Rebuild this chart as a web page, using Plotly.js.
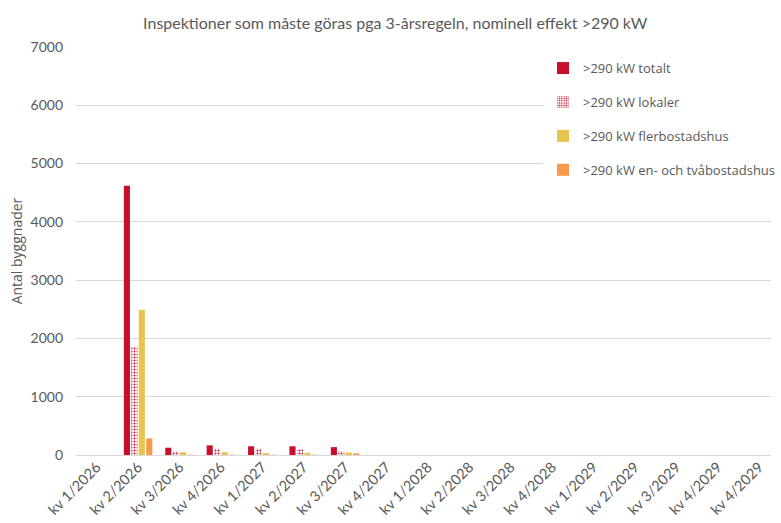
<!DOCTYPE html>
<html>
<head>
<meta charset="utf-8">
<script src="https://cdn.plot.ly/plotly-3.0.1.min.js"></script>
<style>
  html, body { margin: 0; padding: 0; background: #fff; overflow: hidden; }
  #chart { width: 781px; height: 523px; }
</style>
</head>
<body>
<div id="chart"></div>
<script>
// Kvartal (sista etiketten upprepas i originalet)
const categories = ['kv 1/2026', 'kv 2/2026', 'kv 3/2026', 'kv 4/2026',
                    'kv 1/2027', 'kv 2/2027', 'kv 3/2027', 'kv 4/2027',
                    'kv 1/2028', 'kv 2/2028', 'kv 3/2028', 'kv 4/2028',
                    'kv 1/2029', 'kv 2/2029', 'kv 3/2029', 'kv 4/2029', 'kv 4/2029'];

const totalt    = [0, 4620, 125, 165, 150, 150, 135, 0, 0, 0, 0, 0, 0, 0, 0, 0, 0];
const lokaler   = [0, 1860,  65, 110, 110, 105,  65, 0, 0, 0, 0, 0, 0, 0, 0, 0, 0];
const flerbost  = [0, 2490,  48,  48,  35,  38,  43, 0, 0, 0, 0, 0, 0, 0, 0, 0, 0];
const enTvabost = [0,  285,   6,   6,   6,   6,  28, 0, 0, 0, 0, 0, 0, 0, 0, 0, 0];

const COLORS = {
    red: '#C8102E',
    yellow: '#E9C350',
    orange: '#F79A4B',
    text: '#595959',
    grid: '#D9D9D9'
};

const FONT = 'Lato, "Open Sans", sans-serif';      // Calibri-liknande
const FONT_UI = '"Open Sans", "Noto Sans", sans-serif'; // Segoe-liknande
const xIdx = categories.map((_, i) => i);

function bar(name, y, marker, group) {
    return {
        type: 'bar',
        name: name,
        x: xIdx,
        y: y,
        marker: marker,
        legendgroup: group,
        hoverinfo: 'x+y+name'
    };
}

const traces = [
    bar('>290 kW totalt', totalt, { color: COLORS.red }, 'a'),
    bar('>290 kW lokaler', lokaler, {
        color: '#ffffff',
        line: { width: 0 },
        pattern: { shape: '.', fgcolor: COLORS.red, bgcolor: '#ffffff', size: 3, solidity: 0.35 }
    }, 'b'),
    bar('>290 kW flerbostadshus', flerbost, { color: COLORS.yellow }, 'c'),
    bar('>290 kW en- och tvåbostadshus', enTvabost, { color: COLORS.orange }, 'd')
];

const layout = {
    width: 781,
    height: 523,
    font: { family: FONT, size: 13, color: COLORS.text },
    paper_bgcolor: '#ffffff',
    plot_bgcolor: '#ffffff',
    margin: { t: 47, r: 0, b: 68, l: 76 },
    barmode: 'group',
    bargap: 0.28,
    bargroupgap: 0.18,
    title: {
        text: 'Inspektioner som måste göras pga 3-årsregeln, nominell effekt >290 kW',
        font: { family: FONT, size: 16, color: COLORS.text },
        x: 0.506, xref: 'container', xanchor: 'center',
        y: 16, yref: 'container', yanchor: 'middle'
    },
    xaxis: {
        tickmode: 'array',
        tickvals: xIdx,
        ticktext: categories,
        tickangle: -45,
        // diagrammet är beskuret till höger i originalet
        range: [-0.5, categories.length - 0.71],
        tickfont: { family: FONT, size: 14.5, color: COLORS.text },
        showgrid: false,
        zeroline: false,
        showline: false,
        ticks: ''
    },
    yaxis: {
        range: [0, 7000],
        dtick: 1000,
        tickformat: 'd',
        gridcolor: COLORS.grid,
        gridwidth: 1,
        zeroline: true,
        zerolinecolor: COLORS.grid,
        showline: false,
        ticks: '',
        ticklabelstandoff: 12,
        tickfont: { family: FONT, size: 14, color: COLORS.text },
        title: {
            text: 'Antal byggnader',
            font: { family: FONT_UI, size: 14, color: COLORS.text },
            standoff: 4
        }
    },
    showlegend: true,
    legend: {
        x: 0.672, xref: 'paper', xanchor: 'left',
        y: 0.985, yanchor: 'top',
        bgcolor: '#ffffff',
        borderwidth: 0,
        tracegroupgap: 14,
        itemwidth: 30,
        font: { family: FONT_UI, size: 13, color: COLORS.text }
    }
};

Plotly.newPlot('chart', traces, layout, { displayModeBar: false, staticPlot: true });
</script>
</body>
</html>
